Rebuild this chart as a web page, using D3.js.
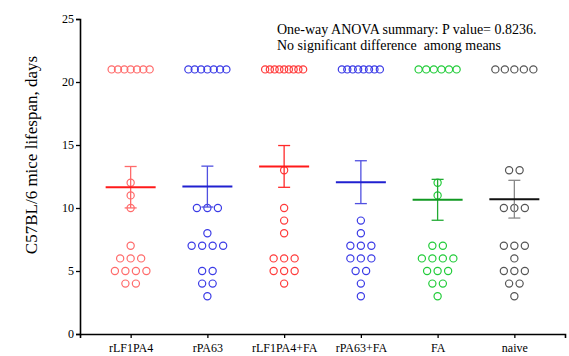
<!DOCTYPE html>
<html>
<head>
<meta charset="utf-8">
<script src="https://cdn.jsdelivr.net/npm/d3@7"></script>
<style>
  body { margin: 0; background: #fff; }
  text { font-family: "Liberation Serif", "Times New Roman", serif; }
</style>
</head>
<body>
<div id="plot"></div>
<script>
// Groups and lifespans (days); 21 = survived to end of study
const categories = ["rLF1PA4", "rPA63", "rLF1PA4+FA", "rPA63+FA", "FA", "naive"];
const rLF1PA4 = [21, 21, 21, 21, 21, 21, 21, 12, 11, 10, 7, 6, 6, 6, 5, 5, 5, 5, 4, 4];
const rPA63 = [21, 21, 21, 21, 21, 21, 21, 10, 10, 10, 8, 7, 7, 7, 7, 5, 5, 4, 4, 3];
const rLF1PA4FA = [21, 21, 21, 21, 21, 21, 21, 21, 21, 13, 10, 9, 8, 6, 6, 6, 5, 5, 5, 4];
const rPA63FA = [21, 21, 21, 21, 21, 21, 21, 21, 9, 8, 7, 7, 7, 6, 6, 6, 5, 5, 4, 3];
const FA = [21, 21, 21, 21, 21, 21, 12, 11, 7, 7, 6, 6, 6, 6, 5, 5, 5, 4, 4, 3];
const naive = [21, 21, 21, 21, 21, 13, 13, 10, 10, 10, 7, 7, 7, 6, 5, 5, 5, 4, 4, 3];
const yTicks = [0, 5, 10, 15, 20, 25];

const groupValues = [rLF1PA4, rPA63, rLF1PA4FA, rPA63FA, FA, naive];

// colours: circles, mean line, error bar
const dotColors = ["#ff6b6b", "#3b3be6", "#ff3a3a", "#3b3be6", "#22cc3a", "#555555"];
const meanColors = ["#ff1a1a", "#2020d0", "#ff1a1a", "#2020d0", "#119922", "#111111"];
const errColors = ["#ff6b6b", "#5050e0", "#ff2a2a", "#5050e0", "#22aa33", "#888888"];

const width = 569;
const height = 356;

const svg = d3.select("#plot")
  .append("svg")
  .attr("width", width)
  .attr("height", height);

const x = d3.scalePoint()
  .domain(categories)
  .range([80, 565])
  .padding(0.66);

const y = d3.scaleLinear()
  .domain([0, 25])
  .range([334, 19]);

// dots spread per value row
const groups = svg.append("g");
groupValues.forEach((vals, gi) => {
  const cx = x(categories[gi]);
  const rows = d3.group(vals, v => v);
  const g = groups.append("g");
  rows.forEach((arr, v) => {
    const k = arr.length;
    const step = k > 1 ? Math.min(10.5, 38 / (k - 1)) : 0;
    arr.forEach((d, i) => {
      g.append("circle")
        .attr("cx", cx + (i - (k - 1) / 2) * step)
        .attr("cy", y(v))
        .attr("r", 3.6)
        .attr("fill", "none")
        .attr("stroke", dotColors[gi])
        .attr("stroke-width", 1.2);
    });
  });

  // mean +/- SEM
  const m = d3.mean(vals);
  const sem = d3.deviation(vals) / Math.sqrt(vals.length);
  g.append("line")
    .attr("x1", cx).attr("x2", cx)
    .attr("y1", y(m + sem)).attr("y2", y(m - sem))
    .attr("stroke", errColors[gi]).attr("stroke-width", 1.3);
  [m + sem, m - sem].forEach(e => {
    g.append("line")
      .attr("x1", cx - 6).attr("x2", cx + 6)
      .attr("y1", y(e)).attr("y2", y(e))
      .attr("stroke", errColors[gi]).attr("stroke-width", 1.3);
  });
  g.append("line")
    .attr("x1", cx - 25).attr("x2", cx + 25)
    .attr("y1", y(m)).attr("y2", y(m))
    .attr("stroke", meanColors[gi]).attr("stroke-width", 2);
});

// axes
const xAxis = svg.append("g")
  .attr("transform", "translate(0,334)")
  .call(d3.axisBottom(x).tickSizeOuter(0).tickSize(4).tickPadding(5));

const yAxis = svg.append("g")
  .attr("transform", "translate(80,0)")
  .call(d3.axisLeft(y).tickValues(yTicks).tickSizeOuter(0).tickSize(4).tickPadding(2));

[xAxis, yAxis].forEach(a => {
  a.select(".domain").attr("stroke", "#000").attr("stroke-width", 1.6);
  a.selectAll(".tick line").attr("stroke", "#000").attr("stroke-width", 1.3);
  a.selectAll(".tick text")
    .attr("fill", "#000")
    .style("font-family", "'Liberation Serif', serif")
    .style("font-size", "12px");
});

// y label
svg.append("text")
  .attr("transform", "translate(37,155) rotate(-90)")
  .attr("text-anchor", "middle")
  .style("font-size", "17px")
  .text("C57BL/6 mice lifespan, days");

// ANOVA note
svg.append("text")
  .attr("x", 277)
  .attr("y", 34)
  .style("font-size", "14px")
  .text("One-way ANOVA summary: P value= 0.8236.");

svg.append("text")
  .attr("x", 277)
  .attr("y", 50)
  .style("font-size", "14px")
  .attr("xml:space", "preserve")
  .style("white-space", "pre")
  .text("No significant difference  among means");
</script>
</body>
</html>
